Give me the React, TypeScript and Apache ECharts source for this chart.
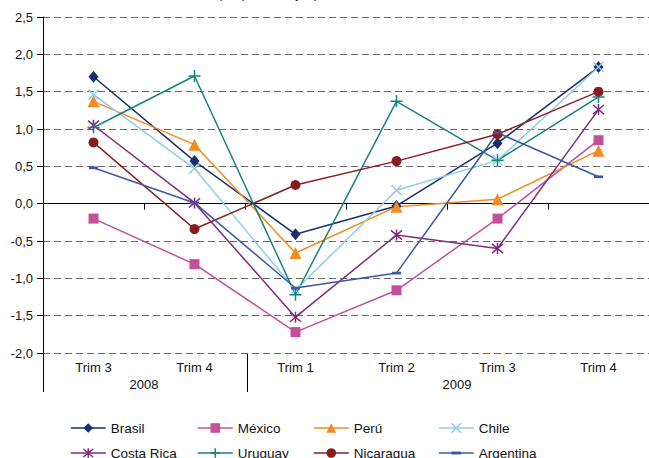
import React, { useEffect, useRef } from "react";
import * as echarts from "echarts";

const quarters = ["Trim 3", "Trim 4", "Trim 1", "Trim 2", "Trim 3", "Trim 4"];
const years = ["2008", "2009"];
const titleText = "(en porcentajes)";

const brasil = [1.7, 0.57, -0.41, -0.03, 0.81, 1.83];
const mexico = [-0.2, -0.81, -1.72, -1.16, -0.2, 0.85];
const peru = [1.37, 0.79, -0.66, -0.04, 0.06, 0.71];
const chile = [1.46, 0.47, -1.16, 0.18, 0.58, 1.83];
const costaRica = [1.05, 0.01, -1.52, -0.42, -0.6, 1.26];
const uruguay = [1.02, 1.71, -1.22, 1.37, 0.58, 1.43];
const nicaragua = [0.82, -0.34, 0.25, 0.57, 0.93, 1.5];
const argentina = [0.48, 0.01, -1.13, -0.93, 0.95, 0.36];

const FONT = "Liberation Sans, Arial, Helvetica, sans-serif";

const seriesDefs = [
  { name: "Brasil", data: brasil, color: "#1c2e72", symbol: "diamond", size: [10, 12], stroke: false },
  { name: "México", data: mexico, color: "#c4509b", symbol: "rect", size: 10, stroke: false },
  { name: "Perú", data: peru, color: "#f28b20", symbol: "triangle", size: 12, stroke: false },
  { name: "Chile", data: chile, color: "#8ecfe0", symbol: "path://M0,0L10,10M10,0L0,10", size: 10, stroke: true },
  { name: "Costa Rica", data: costaRica, color: "#7e2b80", symbol: "path://M0,0L10,10M10,0L0,10M5,-1L5,11", size: 11, stroke: true },
  { name: "Uruguay", data: uruguay, color: "#16837f", symbol: "path://M6,0L6,12M0,6L12,6", size: 12, stroke: true },
  { name: "Nicaragua", data: nicaragua, color: "#8a1c20", symbol: "circle", size: 10, stroke: false },
  { name: "Argentina", data: argentina, color: "#3c58a5", symbol: "path://M0,0M10,10M0,3.5L10,3.5L10,6.5L0,6.5Z", size: 9, stroke: false },
];

const legendCols = [70, 197, 313, 438];
const legendRows = [421, 446];

export default function App() {
  const ref = useRef<HTMLDivElement>(null);
  useEffect(() => {
    document.body.style.margin = "0";
    const chart = echarts.init(ref.current as HTMLDivElement, null, { renderer: "svg" });
    const fmt = (v: number) => v.toFixed(1).replace(".", ",");
    const option: any = {
      animation: false,
      backgroundColor: "#ffffff",
      textStyle: { fontFamily: FONT },
      grid: { left: 43, right: -9, top: 17, bottom: 105, containLabel: false },
      xAxis: [
        {
          type: "category",
          data: quarters,
          position: "bottom",
          boundaryGap: true,
          axisLine: { show: true, onZero: true, lineStyle: { color: "#000", width: 1 } },
          axisTick: { show: true, length: 6, lineStyle: { color: "#000", width: 1 } },
          axisLabel: { show: false },
          splitLine: { show: false },
          z: 3,
        },
        {
          type: "category",
          data: quarters,
          position: "bottom",
          boundaryGap: true,
          axisLine: { show: false, onZero: false },
          axisTick: { show: false },
          axisLabel: { show: true, margin: 8, fontSize: 13, color: "#111", fontFamily: FONT },
          splitLine: { show: false },
        },
      ],
      yAxis: {
        type: "value",
        min: -2,
        max: 2.5,
        interval: 0.5,
        axisLine: { show: true, lineStyle: { color: "#000", width: 1 } },
        axisTick: { show: true, length: 6, lineStyle: { color: "#000", width: 1 } },
        axisLabel: { formatter: fmt, fontSize: 13, color: "#111", margin: 10, fontFamily: FONT },
        splitLine: { show: true, lineStyle: { color: "#666", type: [7, 4], width: 1 } },
      },
      legend: seriesDefs.map((s, i) => ({
        data: [s.name],
        left: legendCols[i % 4],
        top: legendRows[Math.floor(i / 4)],
        orient: "horizontal",
        padding: 0,
        itemWidth: 35,
        itemHeight: 12,
        selectedMode: false,
        itemStyle: s.stroke ? { borderColor: s.color, borderWidth: 1.5 } : { borderWidth: 0 },
        lineStyle: { width: 1.5 },
        textStyle: { fontSize: 13.5, color: "#111", fontFamily: FONT, lineHeight: 12 },
      })),
      series: seriesDefs.map((s) => ({
        name: s.name,
        type: "line",
        data: s.data,
        xAxisIndex: 0,
        symbol: s.symbol,
        symbolSize: s.size,
        showSymbol: true,
        lineStyle: { color: s.color, width: 1.5 },
        itemStyle: {
          color: s.color,
          borderColor: s.color,
          borderWidth: s.stroke ? 1.5 : 0,
        },
        emphasis: { disabled: true },
        z: 4,
      })),
      graphic: [
        {
          type: "text",
          x: 268,
          y: 0,
          style: {
            text: titleText,
            fontSize: 14,
            fontFamily: FONT,
            fill: "#222",
            textAlign: "center",
            textVerticalAlign: "bottom",
          },
        },
        { type: "line", shape: { x1: 43.5, y1: 353, x2: 43.5, y2: 392 }, style: { stroke: "#000", lineWidth: 1 } },
        { type: "line", shape: { x1: 247.5, y1: 353, x2: 247.5, y2: 392 }, style: { stroke: "#000", lineWidth: 1 } },
        {
          type: "text",
          x: 144,
          y: 384,
          style: { text: years[0], fontSize: 13, fontFamily: FONT, fill: "#111", textAlign: "center", textVerticalAlign: "middle" },
        },
        {
          type: "text",
          x: 457,
          y: 384,
          style: { text: years[1], fontSize: 13, fontFamily: FONT, fill: "#111", textAlign: "center", textVerticalAlign: "middle" },
        },
      ],
    };
    chart.setOption(option);
    return () => chart.dispose();
  }, []);
  return <div ref={ref} style={{ width: 649, height: 458 }} />;
}
